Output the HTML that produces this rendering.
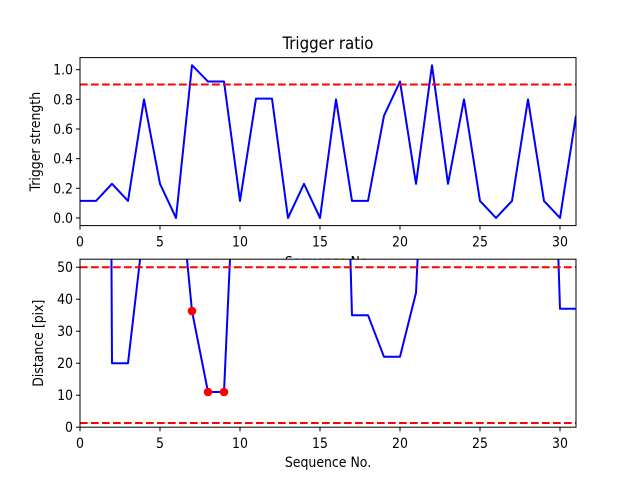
<!DOCTYPE html>
<html><head><meta charset="utf-8"><style>
body{margin:0;background:#fff}
text{font-family:"DejaVu Sans Condensed","DejaVu Sans","Liberation Sans",sans-serif;font-stretch:condensed;fill:#000}
</style></head><body>
<svg id="chart" width="640" height="480" xmlns="http://www.w3.org/2000/svg">
<defs>
<clipPath id="c1"><rect x="80" y="57.6" width="496" height="168"/></clipPath>
<clipPath id="c2"><rect x="80" y="259.2" width="496" height="168"/></clipPath>
</defs>
<rect x="0" y="0" width="640" height="480" fill="#fff"/>
<g id="top"></g>
<g id="bot"></g>
</svg>
<script>
const seq = Array.from({length:32},(_,i)=>i);
const strength = [0.115,0.115,0.23,0.115,0.8,0.23,0,1.03,0.92,0.92,0.115,0.805,0.805,0,0.23,0,0.8,0.115,0.115,0.69,0.92,0.23,1.03,0.23,0.8,0.115,0,0.115,0.8,0.115,0,0.69];
const distance = [400,1000,20,20,63,100,88,36.3,11,11,122,200,200,200,200,200,210,35,35,22,22,42,147,200,200,200,200,200,200,192,37,37];
const markedIdx = [7,8,9];
const strengthThreshold = [0.9];
const distanceThresholds = [50,1.3];
const xTicks = [0,5,10,15,20,25,30];
const topTicks = [0,0.2,0.4,0.6,0.8,1.0];
const topTickLabels = ["0.0","0.2","0.4","0.6","0.8","1.0"];
const botTicks = [0,10,20,30,40,50];
const NS='http://www.w3.org/2000/svg';
const FS=13.9;
function mk(tag,attrs,parent){const e=document.createElementNS(NS,tag);for(const k in attrs)e.setAttribute(k,attrs[k]);parent.appendChild(e);return e;}
function axes(g,top,ymin,ymax,yt,ytl,ylabel,xlabel,nm,ylx,xly){
  const L=80,R=576,H=168,B=top+H;
  const xs=v=>L+(v-0)/31*(R-L);
  const ys=v=>B-(v-ymin)/(ymax-ymin)*H;
  mk('rect',{x:L,y:top,width:R-L,height:H,fill:'#fff'},g);
  return {xs,ys,B,finish(){
    const fr=mk('rect',{x:L,y:top,width:R-L,height:H,fill:'none',stroke:'#000','stroke-width':1},g);
    
    xTicks.forEach(t=>{mk('line',{x1:xs(t),x2:xs(t),y1:B,y2:B+4,stroke:'#000'},g);
      const tx=mk('text',{x:xs(t),y:B+21,'font-size':FS,'text-anchor':'middle'},g);tx.textContent=t;
      });
    yt.forEach((t,i)=>{mk('line',{x1:L-4,x2:L,y1:ys(t),y2:ys(t),stroke:'#000'},g);
      const tx=mk('text',{x:L-7,y:ys(t)+5,'font-size':FS,'text-anchor':'end'},g);tx.textContent=ytl[i];
      });
    const yl=mk('text',{x:0,y:0,'font-size':FS,'text-anchor':'middle',transform:`translate(${ylx},${top+H/2}) rotate(-90)`},g);yl.textContent=ylabel;
    
    const xl=mk('text',{x:(L+R)/2,y:B+xly,'font-size':FS,'text-anchor':'middle'},g);xl.textContent=xlabel;
    
  }};
}
const gt=document.getElementById('top');
const a1=axes(gt,57.6,-0.0515,1.0815,topTicks,topTickLabels,'Trigger strength','Sequence No.','top',40,41);
const cg1=mk('g',{'clip-path':'url(#c1)'},gt);
const p1=mk('polyline',{points:seq.map((s,i)=>a1.xs(s)+','+a1.ys(strength[i])).join(' '),fill:'none',stroke:'#0000ff','stroke-width':2,'stroke-linejoin':'round'},cg1);

strengthThreshold.forEach(v=>{const l=mk('line',{x1:80,x2:576,y1:a1.ys(v),y2:a1.ys(v),stroke:'#ff0000','stroke-width':2,'stroke-dasharray':'7.7,3.3'},cg1);
  });
a1.finish();
const ti=mk('text',{x:328,y:49,'font-size':16.7,'text-anchor':'middle'},gt);ti.textContent='Trigger ratio';

const gb=document.getElementById('bot');
const a2=axes(gb,259.2,0,52.5,botTicks,botTicks.map(String),'Distance [pix]','Sequence No.','bottom',43,40);
const cg2=mk('g',{'clip-path':'url(#c2)'},gb);
const p2=mk('polyline',{points:seq.map((s,i)=>a2.xs(s)+','+a2.ys(distance[i])).join(' '),fill:'none',stroke:'#0000ff','stroke-width':2,'stroke-linejoin':'round'},cg2);

distanceThresholds.forEach(v=>{const l=mk('line',{x1:80,x2:576,y1:a2.ys(v),y2:a2.ys(v),stroke:'#ff0000','stroke-width':2,'stroke-dasharray':'7.7,3.3'},cg2);
  });
markedIdx.forEach(i=>{const c=mk('circle',{cx:a2.xs(seq[i]),cy:a2.ys(distance[i]),r:4.3,fill:'#ff0000'},cg2);
  });
a2.finish();
</script>
</body></html>
